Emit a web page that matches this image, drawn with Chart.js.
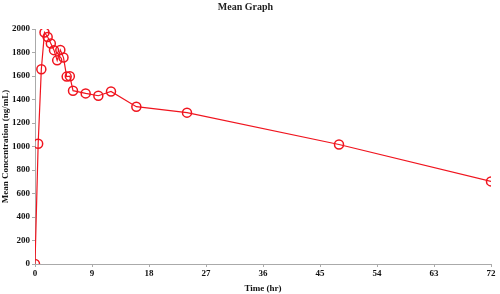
<!DOCTYPE html>
<html>
<head>
<meta charset="utf-8">
<script src="https://cdn.jsdelivr.net/npm/chart.js@4/dist/chart.umd.min.js"></script>
<style>
  html, body { margin: 0; padding: 0; background: #fff; }
  #wrap { width: 500px; height: 294px; }
</style>
</head>
<body>
<div id="wrap"><canvas id="chart" width="500" height="294"></canvas></div>
<script>
// time points (hr) and mean concentration (ng/mL)
const times = [0, 0.5, 1, 1.5, 2, 2.5, 3, 3.5, 4, 4.5, 5, 5.5, 6, 8, 10, 12, 16, 24, 48, 72];
const concentrations = [0, 1023, 1658, 1970, 1932, 1877, 1820, 1733, 1822, 1757, 1595, 1598, 1475, 1452, 1432, 1468, 1339, 1288, 1017, 703];
const xTicks = [0, 9, 18, 27, 36, 45, 54, 63, 72];
const yTicks = [0, 200, 400, 600, 800, 1000, 1200, 1400, 1600, 1800, 2000];

const points = times.map((t, i) => ({ x: t, y: concentrations[i] }));
const tickFont = { family: 'Liberation Serif', size: 9, weight: 'bold' };

const ctx = document.getElementById('chart').getContext('2d');
new Chart(ctx, {
  type: 'line',
  data: {
    datasets: [{
      label: 'Mean',
      data: points,
      borderColor: '#f0141e',
      borderWidth: 1.2,
      pointRadius: 4.5,
      pointBorderWidth: 1.5,
      pointBackgroundColor: 'rgba(255,255,255,0)',
      pointBorderColor: '#f0141e',
      fill: false,
      tension: 0,
    }],
  },
  options: {
    responsive: false,
    animation: false,
    layout: { padding: { top: 0, right: 9, left: 0, bottom: 0 } },
    plugins: {
      legend: { display: false },
      tooltip: { enabled: false },
      title: {
        display: true,
        text: 'Mean Graph',
        color: '#222',
        font: { family: 'Liberation Serif', size: 10, weight: 'bold' },
        padding: { top: 1, bottom: 16 },
      },
    },
    scales: {
      x: {
        type: 'linear',
        min: 0,
        max: 72,
        afterBuildTicks: (axis) => { axis.ticks = xTicks.map((v) => ({ value: v })); },
        afterFit: (axis) => { axis.height = 30; },
        ticks: { color: '#111', font: tickFont, padding: 1, maxRotation: 0, callback: (v) => String(v) },
        grid: { drawOnChartArea: false, drawTicks: true, tickLength: 3, color: '#aaa' },
        border: { color: '#aaa', width: 1 },
        title: {
          display: true,
          text: 'Time (hr)',
          color: '#111',
          font: tickFont,
          padding: { top: 2, bottom: 0 },
        },
      },
      y: {
        min: 0,
        max: 2000,
        afterBuildTicks: (axis) => { axis.ticks = yTicks.map((v) => ({ value: v })); },
        afterFit: (axis) => { axis.width = 35; },
        ticks: { color: '#111', font: tickFont, padding: 2, callback: (v) => String(v) },
        grid: { drawOnChartArea: false, drawTicks: true, tickLength: 3, color: '#aaa' },
        border: { color: '#aaa', width: 1 },
        title: {
          display: true,
          text: 'Mean Concentration (ng/mL)',
          color: '#111',
          font: tickFont,
          padding: { top: 0, bottom: 0 },
        },
      },
    },
  },
});
</script>
</body>
</html>
